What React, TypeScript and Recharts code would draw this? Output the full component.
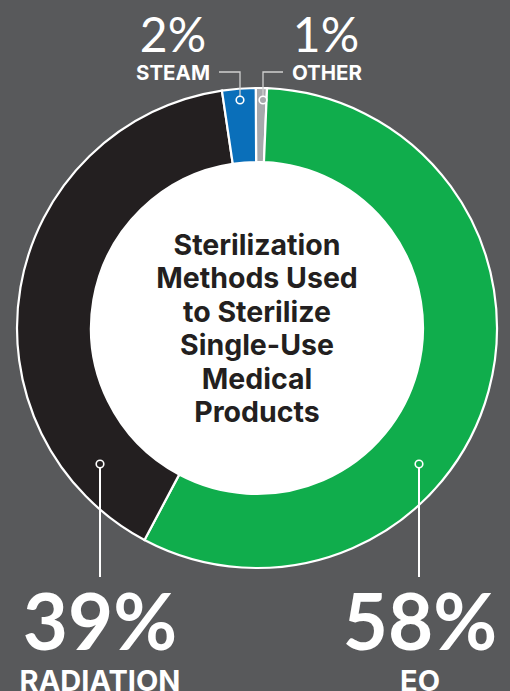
import { PieChart, Pie, Cell } from 'recharts'

const W = 510
const H = 691
const BG = '#58595b'

// slice order clockwise from 12 o'clock
const names = ['OTHER', 'EO', 'RADIATION', 'STEAM']
const shares = [0.75, 57.1, 39.9, 2.25]
const pctLabels = ['1%', '58%', '39%', '2%']
const colors = ['#a7a9ac', '#10ad4c', '#231f20', '#0a6fba']

const titleLines = ['Sterilization', 'Methods Used', 'to Sterilize', 'Single-Use', 'Medical', 'Products']

const data = names.map((name, i) => ({ name, value: shares[i] }))

const CX = 257
const CY = 328
const INNER = 166
const OUTER = 240

const NUM_FONT = 'Lato, "Noto Sans", sans-serif'
const WORD_FONT = 'Inter, "Noto Sans", sans-serif'

function Overlay() {
  const dot = (x: number, y: number, fill: string) => (
    <circle cx={x} cy={y} r={3.8} fill={fill} stroke="#fff" strokeWidth={1.6} />
  )
  return (
    <svg width={W} height={H} style={{ position: 'absolute', left: 0, top: 0 }}>
      {/* center title */}
      <text textAnchor="middle" fill="#231f20" fontWeight={700} fontSize={28.5} fontFamily={WORD_FONT}>
        {titleLines.map((t, i) => (
          <tspan key={i} x={CX} y={255 + i * 33.4}>{t}</tspan>
        ))}
      </text>

      {/* top small slices */}
      <g fill="#fff" textAnchor="middle">
        <text x={173} y={52} fontSize={48} fontWeight={400} fontFamily={NUM_FONT}>{pctLabels[3]}</text>
        <text x={173} y={80} fontSize={20.5} fontWeight={700} fontFamily={WORD_FONT}>{names[3]}</text>
        <text x={326} y={52} fontSize={48} fontWeight={400} fontFamily={NUM_FONT}>{pctLabels[0]}</text>
        <text x={327} y={80} fontSize={20.5} fontWeight={700} fontFamily={WORD_FONT}>{names[0]}</text>
      </g>
      <polyline points="219,72 240,72 240,96" fill="none" stroke="#d0d0d0" strokeWidth={1.3} />
      <polyline points="283,72 263,72 263,96" fill="none" stroke="#d0d0d0" strokeWidth={1.3} />
      {dot(240, 100, colors[3])}
      {dot(263, 100, colors[0])}

      {/* bottom big slices */}
      <line x1={100} y1={468} x2={100} y2={577} stroke="#fff" strokeWidth={2} />
      <line x1={419} y1={468} x2={419} y2={577} stroke="#fff" strokeWidth={2} />
      {dot(100, 464, colors[2])}
      {dot(419, 464, colors[1])}
      <g fill="#fff" textAnchor="middle" fontWeight={700}>
        <text x={100} y={650} fontSize={78} fontFamily={NUM_FONT}>{pctLabels[2]}</text>
        <text x={100} y={691} fontSize={29} fontFamily={WORD_FONT}>{names[2]}</text>
        <text x={420} y={650} fontSize={78} fontFamily={NUM_FONT}>{pctLabels[1]}</text>
        <text x={420} y={691} fontSize={29} fontFamily={WORD_FONT}>{names[1]}</text>
      </g>
    </svg>
  )
}

export default function App() {
  return (
    <div style={{ position: 'fixed', left: 0, top: 0, width: W, height: H, background: BG, overflow: 'hidden' }}>
      <PieChart width={W} height={H} margin={{ top: 0, right: 0, bottom: 0, left: 0 }}>
        <Pie
          data={[{ value: 1 }]}
          dataKey="value"
          cx={CX}
          cy={CY}
          outerRadius={INNER}
          fill="#fff"
          stroke="none"
          isAnimationActive={false}
        />
        <Pie
          data={data}
          dataKey="value"
          nameKey="name"
          cx={CX}
          cy={CY}
          innerRadius={INNER}
          outerRadius={OUTER}
          startAngle={90.3}
          endAngle={-269.7}
          stroke="#fff"
          strokeWidth={2.2}
          isAnimationActive={false}
        >
          {data.map((_, i) => (
            <Cell key={i} fill={colors[i]} />
          ))}
        </Pie>
      </PieChart>
      <Overlay />
    </div>
  )
}
